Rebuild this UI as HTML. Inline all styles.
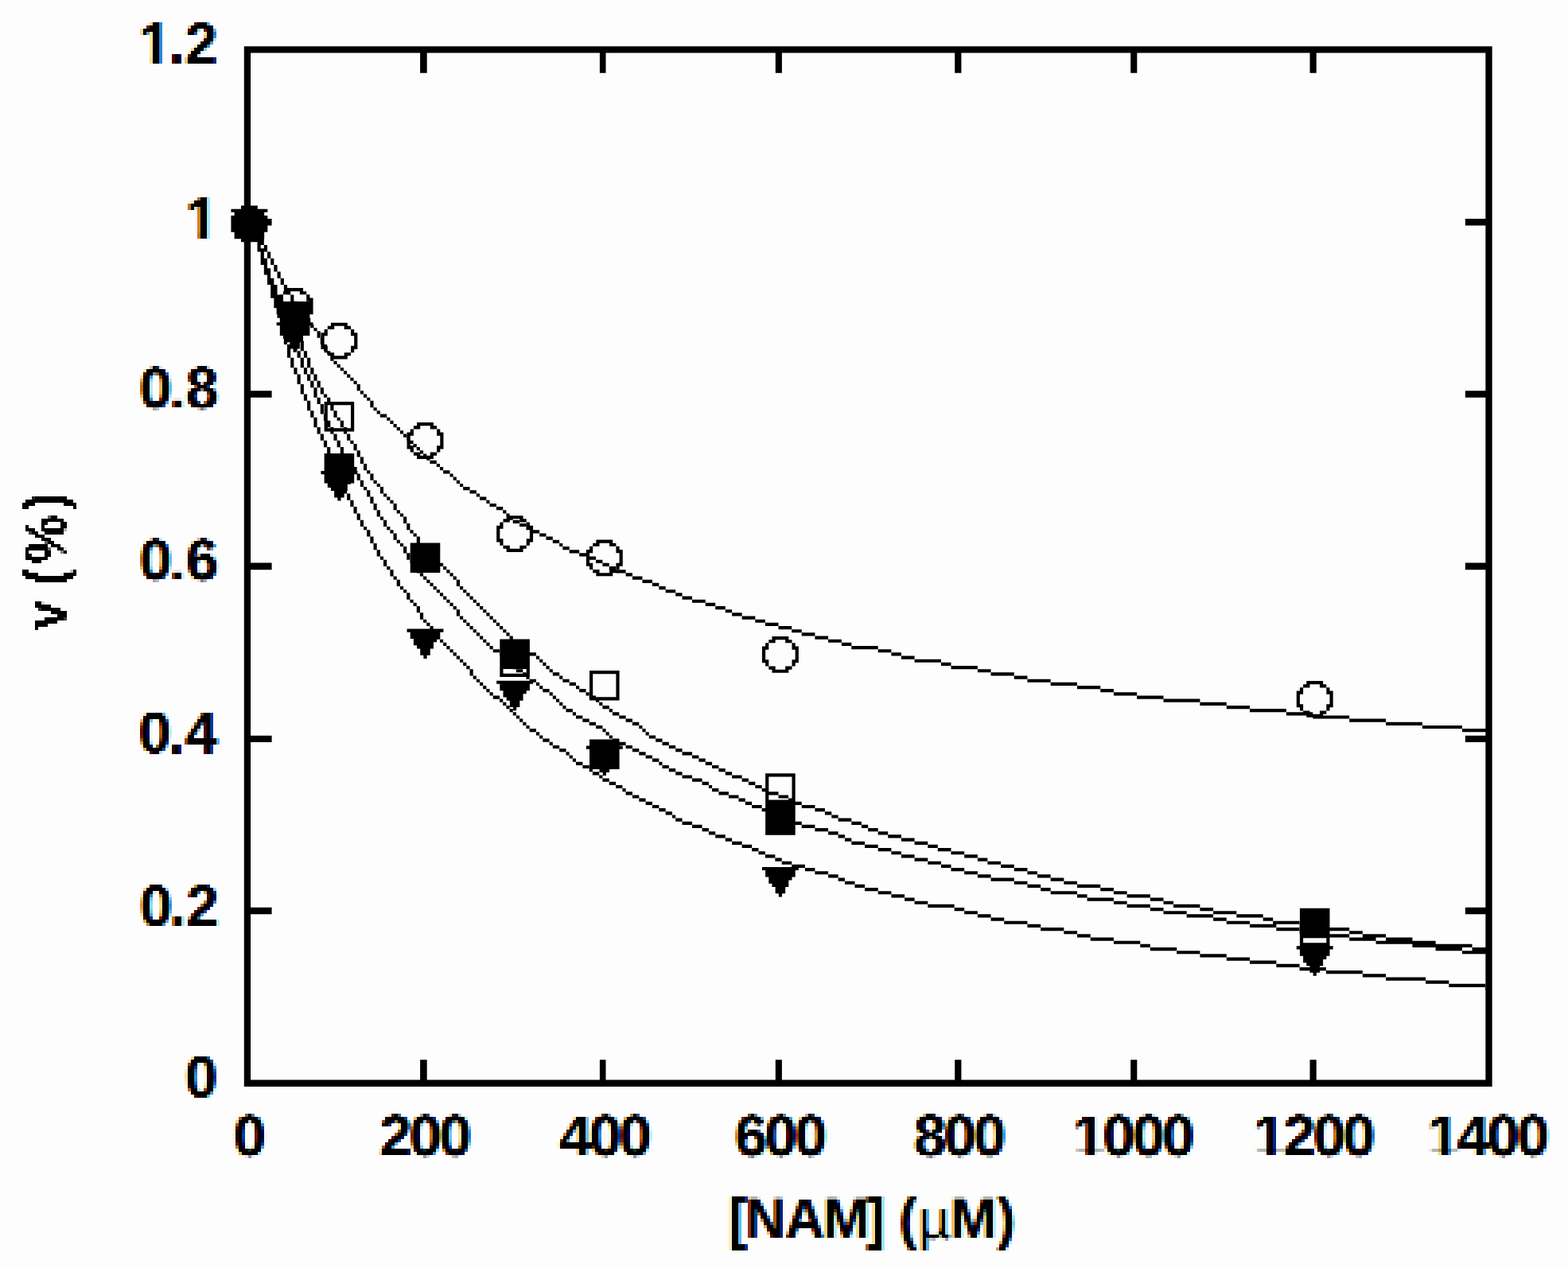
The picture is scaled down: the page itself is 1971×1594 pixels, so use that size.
<!DOCTYPE html>
<html lang="en">
<head>
<meta charset="utf-8">
<title>v (%) vs [NAM] (µM)</title>
<style>
html,body{margin:0;padding:0;background:#fdfdfd;}
body{width:1971px;height:1594px;overflow:hidden;}
svg{display:block;}
text{font-family:"Liberation Sans",Arial,Helvetica,sans-serif;font-weight:bold;fill:#000;}
</style>
</head>
<body>
<svg width="1971" height="1594" viewBox="0 0 1971 1594">
<rect width="1971" height="1594" fill="#fdfdfd"/>
<defs>
<filter id="ct" filterUnits="userSpaceOnUse" x="0" y="0" width="1971" height="1594" color-interpolation-filters="sRGB">
<feFlood x="1" y="1" width="1" height="1" flood-color="#000"/>
<feComposite width="4" height="4"/>
<feTile result="dots"/>
<feMorphology in="SourceAlpha" operator="erode" radius="0" result="thin"/>
<feGaussianBlur in="thin" stdDeviation="1.3 0.6" result="cov"/>
<feOffset in="cov" dx="1.39" dy="0" result="covR"/>
<feOffset in="cov" dx="-1.39" dy="0" result="covB"/>
<feComposite in="covR" in2="dots" operator="in"/>
<feColorMatrix type="matrix" values="0 0 0 1 0  0 0 0 1 0  0 0 0 1 0  0 0 0 0 1"/>
<feMorphology operator="dilate" radius="1" result="r1"/>
<feOffset in="r1" dx="1" dy="0" result="r2"/>
<feBlend in="r1" in2="r2" mode="lighten" result="r3"/>
<feOffset in="r3" dx="0" dy="1" result="r4"/>
<feBlend in="r3" in2="r4" mode="lighten" result="gR"/>
<feComposite in="cov" in2="dots" operator="in"/>
<feColorMatrix type="matrix" values="0 0 0 1 0  0 0 0 1 0  0 0 0 1 0  0 0 0 0 1"/>
<feMorphology operator="dilate" radius="1" result="g1"/>
<feOffset in="g1" dx="1" dy="0" result="g2"/>
<feBlend in="g1" in2="g2" mode="lighten" result="g3"/>
<feOffset in="g3" dx="0" dy="1" result="g4"/>
<feBlend in="g3" in2="g4" mode="lighten" result="gG"/>
<feComposite in="covB" in2="dots" operator="in"/>
<feColorMatrix type="matrix" values="0 0 0 1 0  0 0 0 1 0  0 0 0 1 0  0 0 0 0 1"/>
<feMorphology operator="dilate" radius="1" result="b1"/>
<feOffset in="b1" dx="1" dy="0" result="b2"/>
<feBlend in="b1" in2="b2" mode="lighten" result="b3"/>
<feOffset in="b3" dx="0" dy="1" result="b4"/>
<feBlend in="b3" in2="b4" mode="lighten" result="gB"/>
<feColorMatrix in="gR" type="matrix" values="0 0 0 0 0  0 0 0 0 1  0 0 0 0 1  1.2 0 0 0 0" result="cR"/>
<feColorMatrix in="gG" type="matrix" values="0 0 0 0 1  0 0 0 0 0  0 0 0 0 1  1.2 0 0 0 0" result="cG"/>
<feColorMatrix in="gB" type="matrix" values="0 0 0 0 1  0 0 0 0 1  0 0 0 0 0  1.2 0 0 0 0" result="cB"/>
<feBlend mode="multiply" in="cR" in2="cG" result="m1"/>
<feBlend mode="multiply" in="m1" in2="cB"/>
</filter>
<filter id="px" filterUnits="userSpaceOnUse" x="0" y="0" width="1971" height="1594" color-interpolation-filters="sRGB">
<feFlood x="1" y="1" width="1" height="1" flood-color="#000"/>
<feComposite width="4" height="4"/>
<feTile result="dots"/>
<feMorphology in="SourceAlpha" operator="erode" radius="0" result="thin"/>
<feGaussianBlur in="thin" stdDeviation="1" result="cov"/>
<feComposite in="cov" in2="dots" operator="in"/>
<feColorMatrix type="matrix" values="0 0 0 1 0  0 0 0 1 0  0 0 0 1 0  0 0 0 0 1"/>
<feMorphology operator="dilate" radius="1" result="p1"/>
<feOffset in="p1" dx="1" dy="0" result="p2"/>
<feBlend in="p1" in2="p2" mode="lighten" result="p3"/>
<feOffset in="p3" dx="0" dy="1" result="p4"/>
<feBlend in="p3" in2="p4" mode="lighten" result="p5"/>
<feColorMatrix in="p5" type="matrix" values="0 0 0 0 0  0 0 0 0 0  0 0 0 0 0  8 0 0 0 -3.6"/>
</filter>
</defs>
<g fill="#000" stroke="none">
<path fill-rule="evenodd" d="M306.8 58.2H1875.65V1365.9H306.8ZM315.1 66.5V1357.6H1867.35V66.5Z"/>
<path d="M528.1 65.5h8.6v26.3h-8.6zM528.1 1332.3h8.6v26.3h-8.6zM753.9 65.5h7.6v26.3h-7.6zM753.9 1332.3h7.6v26.3h-7.6zM974.8 65.5h8.1v26.3h-8.1zM974.8 1332.3h8.1v26.3h-8.1zM1200.2 65.5h8.2v26.3h-8.2zM1200.2 1332.3h8.2v26.3h-8.2zM1421.2 65.5h8.1v26.3h-8.1zM1421.2 1332.3h8.1v26.3h-8.1zM1646.5 65.5h8.2v26.3h-8.2zM1646.5 1332.3h8.2v26.3h-8.2zM314.1 275h27.5v8.5h-27.5zM1841.85 275h26.5v8.5h-26.5zM314.1 491.3h27.5v8.5h-27.5zM1841.85 491.3h26.5v8.5h-26.5zM314.1 707.5h27.5v8.8h-27.5zM1841.85 707.5h26.5v8.8h-26.5zM314.1 924.7h27.5v8.4h-27.5zM1841.85 924.7h26.5v8.4h-26.5zM314.1 1140.7h27.5v8.6h-27.5zM1841.85 1140.7h26.5v8.6h-26.5z"/>
<path fill-rule="evenodd" d="M290.44 270.98V291.82H294.62V300.15H302.96V304.32H323.48V316.42H327.65V333.07H331.82V345.57H336V358.06H340.17V374.72H344.34V387.21H347.64V395.32H348.51V399.71H351.82V405.19H347.64V409.37H351.82V421.9H355.99V426.03H356.86V433.02H361.03V449.68H365.2V462.18H369.37V470.51H373.55V483H377.72V495.49H381.89V503.82H386.06V516.32H390.23V524.65H394.41V537.14H398.58V545.47H402.75V553.8H406.92V562.13H411.1V570.05H407.62V592.09H403.44V596.27H407.62V607.55H411.79V612.93H415.96V617.1H420.13V625.43H424.3V629.59H428.5V625.43H432.67V620.43H436.13V628.76H440.3V637.09H444.47V645.42H448.64V653.75H452.82V662.08H456.99V666.24H461.16V674.57H465.33V682.9H469.51V691.23H473.68V699.56H477.85V703.72H482.02V712.05H486.19V716.22H490.37V724.55H494.54V728.71H498.71V737.04H502.88V741.2H507.06V745.37H511.23V753.7H515.4V757.86H519.57V762.03H523.74V770.36H527.92V778.69H532.09V782.85H536.26V787.01H540.43V790.49H511.54V794.67H515.72V803H519.89V811.33H524.06V815.5H528.23V823.83H532.4V827.99H536.6V823.83H540.77V815.5H544.94V807.17H549.11V803.67H552.95V807.84H557.12V812H561.29V816.17H565.47V820.33H569.64V824.5H573.81V828.66H577.98V832.83H582.16V836.99H586.33V841.15H590.5V849.48H594.67V853.65H598.84V857.81H603.02V861.98H607.19V866.14H611.36V870.31H615.53V874.47H619.71V878.64H628.05V882.8H632.22V886.97H636.39V891.13H640.57V895.29H644.74V899.46H648.91V903.62H653.08V907.79H657.25V911.95H661.43V916.12H665.6V920.28H673.94V924.45H678.12V928.61H682.29V932.78H690.63V936.94H694.8V941.11H703.15V945.27H711.49V949.43H715.67V953.6H719.84V957.76H724.01V961.93H732.35V966.09H740.7V970.26H744.87V974.42H753.22V978.59H757.39V982.75H765.73V986.92H774.08V991.08H782.42V995.25H786.59V999.41H794.94V1003.57H803.28V1007.74H811.63V1011.9H819.97V1016.07H828.32V1020.23H836.66V1024.4H845V1028.56H849.18V1032.73H857.52V1036.89H870.04V1041.06H882.55V1045.22H890.9V1049.38H899.24V1053.55H911.76V1057.71H920.1V1061.88H932.62V1066.04H945.14V1070.21H953.48V1074.37H961.83V1078.54H974.34V1082.7H982.69V1086.87H995.2V1089.89H957.94V1094.07H962.12V1102.4H966.29V1110.73H970.46V1114.9H974.63V1123.23H978.8V1127.39H983V1123.23H987.17V1114.9H991.34V1106.57H995.51V1102.4H999.68V1094.07H1003.86V1091.03H1011.89V1095.2H1024.41V1099.36H1041.1V1103.52H1053.61V1107.69H1061.96V1111.85H1074.47V1116.02H1086.99V1120.18H1103.68V1124.35H1120.37V1128.51H1137.06V1132.68H1149.57V1136.84H1166.26V1141.01H1199.64V1145.17H1212.16V1149.34H1228.85V1153.5H1245.54V1157.66H1262.22V1161.83H1291.43V1165.99H1308.12V1170.16H1337.32V1174.32H1354.01V1178.49H1370.7V1182.65H1399.91V1186.82H1433.28V1190.98H1445.8V1195.15H1479.18V1199.31H1508.38V1203.48H1541.76V1207.64H1570.97V1211.8H1604.34V1215.97H1633.55V1220.13H1646.43V1222.63H1650.6V1226.79H1654.8V1222.63H1658.97V1220.13H1666.93V1224.3H1712.82V1228.46H1742.03V1232.63H1792.09V1236.79H1821.3V1240.96H1867.19V1245.12H1871.38V1240.94H1867.21V1236.77H1821.32V1232.61H1792.11V1228.44H1742.05V1224.28H1712.84V1220.11H1666.95V1215.95H1658.97V1214.3H1663.14V1205.97H1667.31V1201.8H1671.48V1193.47H1675.66V1189.29H1671.48V1178.49H1696.13V1182.65H1729.51V1186.82H1775.4V1190.98H1804.61V1195.15H1837.99V1199.31H1871.38V1190.96H1850.52V1186.8H1804.63V1182.63H1775.42V1178.47H1742.05V1174.3H1712.84V1170.14H1696.15V1165.97H1671.48V1141.65H1633.92V1161.81H1633.57V1157.64H1600.19V1153.48H1587.68V1149.32H1554.3V1145.15H1525.09V1140.99H1508.4V1136.82H1475.03V1132.66H1462.51V1128.49H1445.82V1124.33H1416.62V1120.16H1399.93V1116H1383.24V1111.83H1354.03V1107.67H1337.34V1103.5H1320.65V1099.34H1303.97V1095.18H1291.45V1091.01H1274.76V1086.85H1258.07V1082.68H1241.38V1078.52H1228.87V1074.35H1212.18V1070.19H1195.49V1066.02H1178.8V1061.86H1166.28V1057.69H1149.59V1053.53H1132.91V1049.36H1116.22V1045.2H1103.7V1041.04H1091.18V1036.87H1082.84V1032.71H1070.32V1028.54H1053.63V1024.38H1045.29V1020.21H1036.94V1016.05H1024.43V1011.88H1007.74V1007.72H999.68V972.25H962.12V991.06H957.67V986.9H949.33V982.73H940.98V978.57H932.64V974.4H920.12V970.24H911.78V966.07H903.43V961.91H895.09V957.74H886.75V953.58H878.4V949.41H870.06V945.25H857.54V941.09H849.2V936.92H840.85V932.76H832.51V928.59H824.16V924.43H815.82V920.26H811.65V916.1H807.47V911.93H803.3V907.77H794.96V903.6H786.61V899.44H778.27V895.27H769.92V891.11H765.75V886.95H757.41V882.78H753.24V880.55H778.58V843.05H741.02V874.45H740.72V870.29H736.55V866.12H728.2V861.96H724.03V857.79H715.69V853.63H707.34V849.46H703.17V845.3H694.82V841.13H690.65V836.97H686.48V832.81H682.31V828.64H678.14V824.48H673.96V820.31H665.88V803.55H644.76V799.49H640.59V795.32H636.41V791.16H632.24V787H628.07V782.83H623.9V778.67H619.72V774.5H615.55V770.34H611.38V766.17H607.21V762.01H603.04V757.84H598.86V753.68H594.69V749.51H590.52V745.35H586.35V741.18H582.18V737.02H578V728.69H573.83V724.53H569.66V720.36H565.49V716.2H561.31V712.03H557.14V707.87H553.28V682.45H527.94V674.55H523.76V670.39H519.59V666.22H515.42V657.89H511.25V649.56H507.08V645.4H502.9V641.23H498.73V632.9H494.56V628.74H490.39V624.58H486.21V620.41H482.04V612.08H477.87V607.92H473.7V603.75H469.53V595.42H465.35V591.26H461.18V582.93H457.01V574.6H452.84V566.27H448.66V557.94H444.49V553.78H440.32V545.45H436.15V542.45H445.18V504.95H415.29V499.64H411.12V495.47H406.94V487.14H402.77V478.81H398.6V470.49H394.43V462.16H390.25V449.66H386.08V441.33H381.91V428.84H381.04V421.9H389.38V409.37H390.23V412.2H394.41V416.37H398.58V424.69H402.75V433.02H403.44V439.02H406.92V441.35H407.62V443.19H411.1V445.52H411.79V447.35H415.27V453.85H419.44V458.01H423.61V462.18H427.78V466.34H431.96V470.51H436.13V474.67H440.3V478.83H444.47V483H448.64V491.33H452.82V495.49H456.99V499.66H461.16V503.82H465.33V512.15H469.51V516.32H473.68V520.48H477.85V524.65H486.19V528.81H490.37V532.97H494.54V537.14H498.71V541.3H502.88V545.47H507.06V549.63H511.23V553.8H511.54V564.42H515.72V568.59H519.89V572.75H524.06V576.92H536.26V578.78H540.43V582.95H548.78V587.11H552.95V591.28H557.12V595.44H565.47V599.61H569.64V603.77H573.81V607.94H577.98V612.1H582.16V616.27H590.5V620.43H598.84V624.6H603.02V628.76H611.36V632.92H615.53V637.09H623.88V641.25H632.22V645.42H636.39V649.58H636.66V652.35H632.49V656.51H628.32V660.68H624.14V681.52H628.32V685.69H632.49V689.85H636.66V694.02H657.54V689.85H661.71V685.69H665.88V681.52H670.06V670.41H678.12V674.57H686.46V678.74H694.8V682.9H703.15V687.06H707.32V691.23H715.67V695.39H728.18V699.56H736.84V711.82H741.02V715.99H745.19V720.15H749.36V724.32H770.24V720.15H774.08V720.38H786.59V724.55H794.94V728.71H807.45V732.88H819.97V737.04H828.32V741.2H836.66V745.37H849.18V749.53H857.52V753.7H870.04V757.86H886.73V762.03H899.24V766.19H911.76V770.36H920.1V774.52H932.62V778.69H949.31V782.85H961.83V787.01H978.51V791.18H995.2V795.34H1007.72V799.51H1024.41V803.67H1041.1V807.84H1057.79V812H1070.3V816.17H1103.68V820.33H1120.37V824.5H1132.89V828.66H1149.57V832.83H1182.95V836.99H1195.47V841.15H1228.85V845.32H1245.54V849.48H1274.74V853.65H1291.43V857.81H1320.63V861.98H1354.01V866.14H1383.22V870.31H1399.91V874.47H1429.11V878.64H1462.49V882.8H1508.38V886.97H1541.76V891.13H1570.97V895.29H1616.86V899.46H1642.26V901.87H1650.24V903.62H1696.13V907.79H1742.03V911.95H1787.92V916.12H1837.99V920.28H1871.38V916.1H1838.01V911.93H1787.94V907.77H1742.05V903.6H1696.15V899.44H1663.14V897.7H1667.31V893.54H1671.48V889.37H1675.66V868.53H1671.48V864.36H1667.31V860.2H1663.14V856.03H1642.26V860.2H1638.09V864.36H1633.92V868.53H1629.74V889.37H1633.92V893.54H1638.09V895.27H1616.88V891.11H1570.99V886.95H1541.78V882.78H1508.4V878.62H1462.51V874.45H1429.13V870.29H1399.93V866.12H1383.24V861.96H1354.03V857.79H1320.65V853.63H1291.45V849.46H1274.76V845.3H1245.56V841.13H1228.87V836.97H1195.49V832.81H1182.97V828.64H1149.59V824.48H1132.91V820.31H1120.39V816.15H1103.7V811.98H1070.32V807.82H1057.81V803.65H1041.12V799.49H1024.43V795.32H1007.74V791.16H995.22V787H978.53V782.83H961.85V778.67H949.33V774.5H932.64V770.34H920.12V766.17H911.78V762.01H899.26V757.84H886.75V753.68H870.06V749.51H857.54V745.35H849.2V741.18H836.68V737.02H828.34V732.86H819.99V728.69H807.47V724.53H794.96V720.36H786.61V716.2H774.41V715.99H778.58V711.82H782.76V690.98H778.58V686.81H774.41V682.65H770.24V678.48H749.36V682.65H745.19V686.81H741.02V690.98H736.84V695.37H728.2V691.21H715.69V687.04H707.34V682.88H703.17V678.72H694.82V674.55H686.48V670.39H678.14V666.22H670.06V660.68H665.88V656.51H661.71V652.35H657.54V648.18H640.59V645.4H636.41V641.23H632.24V637.07H623.9V632.9H615.55V628.74H611.38V624.58H603.04V620.41H598.86V616.25H590.52V612.08H582.18V607.92H578V603.75H573.83V599.59H569.66V595.42H565.49V591.26H557.14V587.09H552.97V582.93H548.8V578.77H540.45V576.92H544.94V572.75H549.11V568.59H553.28V564.42H557.46V543.58H553.28V539.41H549.11V535.25H544.94V531.08H524.06V535.25H519.89V539.41H515.72V543.58H511.54V549.61H511.25V545.45H507.08V541.28H502.9V537.12H498.73V532.95H494.56V528.79H490.39V524.63H486.21V520.46H477.87V516.3H473.7V512.13H469.53V503.8H465.35V499.64H461.18V495.47H457.01V491.31H452.84V482.98H448.66V478.81H444.49V474.65H440.32V470.49H436.15V466.32H431.98V462.16H427.8V457.99H423.63V453.83H419.46V451.52H436.84V447.35H441.01V443.19H445.18V439.02H449.36V418.18H445.18V414.01H441.01V409.85H436.84V405.68H415.96V409.85H411.79V414.01H407.62V418.18H403.44V424.67H402.77V416.35H398.6V412.18H394.43V408.02H393.56V405.19H390.25V399.69H389.38V395.32H393.56V374.48H389.38V370.31H385.21V366.15H381.04V361.98H361.05V358.04H356.88V349.71H352.7V341.38H348.53V333.05H344.36V324.72H340.19V316.4H336.02V308.07H331.84V300.15H332.18V291.82H336.36V270.98H332.18V266.87H336.36V262.69H332.18V262.65H323.84V258.48H302.96V262.65H294.62V262.69H290.44V266.87H294.62V270.98ZM819.99 1011.88V1007.72H811.65V1003.55H803.3V999.39H794.96V995.23H786.61V991.06H782.44V986.9H774.1V982.73H765.75V978.57H757.41V974.4H753.24V970.24H744.89V966.95H753.53V970.93H757.7V975.09H761.9V970.93H766.07V966.95H778.58V941.77H782.76V937.59H778.58V936.94H786.59V941.11H794.94V945.27H803.28V949.43H811.63V953.6H819.97V957.76H828.32V961.93H832.49V966.09H840.83V970.26H849.18V974.42H857.52V978.59H870.04V982.75H882.55V986.92H890.9V991.08H895.07V995.25H903.41V999.41H915.93V1003.57H928.45V1007.74H936.79V1011.9H945.14V1016.07H957.65V1020.23H962.12V1049.75H999.68V1036.89H1007.72V1041.06H1024.41V1045.22H1041.1V1049.38H1053.61V1053.55H1061.96V1057.71H1070.3V1061.88H1086.99V1066.04H1103.68V1070.21H1120.37V1074.37H1132.89V1078.54H1149.57V1082.7H1166.26V1086.87H1182.95V1091.03H1195.47V1095.2H1212.16V1099.36H1228.85V1103.52H1245.54V1107.69H1274.74V1111.85H1291.43V1116.02H1308.12V1120.18H1320.63V1124.35H1354.01V1128.51H1366.53V1132.68H1399.91V1136.84H1416.6V1141.01H1445.8V1145.17H1462.49V1149.34H1491.69V1153.5H1525.07V1157.66H1541.76V1161.83H1570.97V1165.99H1604.34V1170.16H1633.55V1174.32H1633.92V1189.29H1629.74V1193.47H1633.92V1201.8H1638.09V1210.13H1642.26V1214.3H1646.43V1215.95H1633.57V1211.78H1604.36V1207.62H1570.99V1203.46H1541.78V1199.29H1508.4V1195.13H1479.2V1190.96H1445.82V1186.8H1433.3V1182.63H1399.93V1178.47H1370.72V1174.3H1354.03V1170.14H1337.34V1165.97H1308.14V1161.81H1291.45V1157.64H1262.24V1153.48H1245.56V1149.32H1228.87V1145.15H1212.18V1140.99H1199.66V1136.82H1166.28V1132.66H1149.59V1128.49H1137.08V1124.33H1120.39V1120.16H1103.7V1116H1087.01V1111.83H1074.49V1107.67H1061.98V1103.5H1053.63V1099.34H1041.12V1095.18H1024.43V1091.01H1011.91V1086.85H995.22V1082.68H982.71V1078.52H974.36V1074.35H961.85V1070.19H953.5V1066.02H945.16V1061.86H932.64V1057.69H920.12V1053.53H911.78V1049.36H899.26V1045.2H890.92V1041.04H882.57V1036.87H870.06V1032.71H857.54V1028.54H849.2V1024.38H845.02V1020.21H836.68V1016.05H828.34V1011.88ZM857.54 974.4V970.24H849.2V966.07H840.85V961.91H832.51V957.74H828.34V953.58H819.99V949.41H811.65V945.25H803.3V941.09H794.96V936.92H786.61V932.76H778.58V929.45H778.27V928.59H769.92V924.43H765.75V920.26H761.58V916.1H757.41V911.93H749.06V907.77H740.72V903.6H732.37V899.44H724.03V895.27H719.86V891.11H711.51V886.95H707.34V882.78H703.17V878.62H699V874.45H694.82V870.29H690.65V866.12H682.31V861.96H678.14V857.79H673.96V853.63H665.62V851.05H665.88V824.5H673.94V828.66H678.12V832.83H682.29V836.99H686.46V841.15H690.63V845.32H694.8V849.48H703.15V853.65H707.32V857.81H715.67V861.98H724.01V866.14H728.18V870.31H736.53V874.47H740.7V878.64H741.02V880.55H749.04V882.8H753.22V886.97H757.39V891.13H765.73V895.29H769.9V899.46H778.25V903.62H786.59V907.79H794.94V911.95H803.28V916.12H807.45V920.28H811.63V924.45H815.8V928.61H824.14V932.78H832.49V936.94H840.83V941.11H849.18V945.27H857.52V949.43H870.04V953.6H878.38V957.76H886.73V961.93H895.07V966.09H903.41V970.26H911.76V974.42H920.1V978.59H932.62V982.75H940.96V986.92H949.31V991.08H957.65V995.25H962.12V1016.05H957.67V1011.88H945.16V1007.72H936.81V1003.55H928.47V999.39H915.95V995.23H903.43V991.06H895.09V986.9H890.92V982.73H882.57V978.57H870.06V974.4ZM473.7 682.88H469.53V674.55H465.35V666.22H461.18V662.06H457.01V653.73H452.84V645.4H448.66V637.07H444.49V628.74H440.32V620.41H436.15V617.1H436.84V608.77H441.01V607.55H445.18V596.27H448.64V603.77H452.82V612.1H456.99V616.27H461.16V624.6H465.33V632.92H469.51V641.25H473.68V649.58H477.85V653.75H482.02V662.08H486.19V666.24H490.37V670.41H494.54V678.74H498.71V682.9H502.88V687.06H507.06V695.39H511.23V703.72H515.4V707.89H515.72V719.95H523.74V720.38H527.92V724.55H532.09V728.71H536.26V732.88H540.43V737.04H544.61V741.2H548.78V745.37H552.95V749.53H557.12V753.7H561.29V757.86H565.47V762.03H569.64V766.19H573.81V774.52H577.98V778.69H582.16V782.85H586.33V787.01H590.5V791.18H594.67V795.34H598.84V799.51H603.02V803.67H607.19V807.84H611.36V812H615.53V816.17H619.71V820.33H628.05V824.5H628.32V851.05H661.43V853.65H665.6V855.69H624.14V859.87H628.32V868.2H632.49V876.53H636.66V880.7H640.83V889.03H645V893.19H649.2V889.03H653.37V880.7H657.54V872.37H661.71V868.2H665.88V859.87H670.06V857.81H673.94V861.98H678.12V866.14H682.29V870.31H690.63V874.47H694.8V878.64H698.98V882.8H703.15V886.97H707.32V891.13H711.49V895.29H719.84V899.46H724.01V903.62H732.35V907.79H740.7V911.95H749.04V916.12H757.39V920.28H761.56V924.45H765.73V928.61H769.9V929.45H741.02V937.59H736.84V941.77H741.02V966.07H740.72V961.91H732.37V957.74H724.03V953.58H719.86V949.41H715.69V945.25H711.51V941.09H703.17V936.92H694.82V932.76H690.65V928.59H682.31V924.43H678.14V920.26H673.96V916.1H665.62V911.93H661.45V907.77H657.27V903.6H653.1V899.44H648.93V895.27H644.76V891.11H640.59V886.95H636.41V882.78H632.24V878.62H628.07V874.45H619.72V870.29H615.55V866.12H611.38V861.96H607.21V857.79H603.04V853.63H598.86V849.46H594.69V841.13H590.52V836.97H586.35V832.81H582.18V828.64H578V824.48H573.83V820.31H569.66V816.15H565.49V811.98H561.31V807.82H557.14V803.65H552.97V803H553.28V794.67H557.46V790.49H544.63V787H540.45V782.83H536.28V778.67H532.11V770.34H527.94V762.01H523.76V757.84H519.59V753.68H515.42V745.35H511.25V741.18H507.08V737.02H502.9V728.69H498.73V724.53H494.56V716.2H490.39V712.03H486.21V703.7H482.04V699.54H477.87V691.21H473.7ZM502.9 682.88V678.72H498.73V670.39H494.56V666.22H490.39V662.06H486.21V653.73H482.04V649.56H477.87V641.23H473.7V632.9H469.53V624.58H465.35V616.25H461.18V612.08H457.01V603.75H452.84V595.42H449.36V592.09H448.66V587.09H445.18V570.05H431.98V562.11H427.8V553.78H423.63V545.45H419.46V542.45H431.96V545.47H436.13V553.8H440.3V557.96H444.47V566.29H448.64V574.62H452.82V582.95H456.99V591.28H461.16V595.44H465.33V603.77H469.51V607.94H473.68V612.1H477.85V620.43H482.02V624.6H486.19V628.76H490.37V632.92H494.54V641.25H498.71V645.42H502.88V649.58H507.06V657.91H511.23V666.24H515.4V670.41H519.57V674.57H523.74V682.45H515.72V703.7H515.42V695.37H511.25V687.04H507.08V682.88ZM532.09 570.46V572.73H528.25V570.46ZM532.11 570.44V566.27H527.94V562.11H523.76V557.94H519.59V553.78H515.74V547.76H519.91V539.43H528.25V535.27H540.75V539.43H549.09V547.76H553.26V560.24H549.09V568.57H540.75V572.73H536.28V570.44ZM369.39 462.16V449.66H365.22V438.53H368.5V442.69H372.7V441.35H373.55V449.68H377.72V462.18H381.89V470.51H386.06V478.83H390.23V487.16H394.41V499.66H398.58V507.99H402.75V520.48H406.92V528.81H407.62V542.45H415.27V545.47H419.44V553.8H423.61V562.13H427.78V570.05H415.29V562.11H411.12V553.78H406.94V545.45H402.77V537.12H398.6V524.63H394.43V516.3H390.25V503.8H386.08V495.47H381.91V482.98H377.74V470.49H373.57V462.16ZM386.08 462.18H390.23V470.49H386.08ZM351.84 379.05V378.88H352.68V379.05ZM356.01 370.33H361.03V370.56H365.2V378.88H369.37V379.05H356.88V378.86H352.7V378.66H356.01ZM348.53 358.04H344.36V349.71H340.19V337.22H336.02V324.74H340.17V333.07H344.34V341.4H348.51V349.73H352.68V358.06H356.86V366.15H355.99V370.31H351.82V370.54H348.53ZM331.82 308.09V312.23H327.67V308.09ZM336 324.72H331.84V316.42H336ZM385.19 378.66H389.36V379.05H373.57V378.86H369.39V370.54H365.22V366.37H364.35V366.17H376.85V370.33H385.19ZM377.72 441.33H373.57V438.53H376.87V430.2H377.72ZM377.74 441.35H381.89V449.66H377.74ZM361.05 433V430.2H364.33V433ZM386.06 462.16H381.91V449.68H386.06ZM398.6 487.16H402.75V495.49H406.92V499.66H411.1V504.95H407.62V520.46H406.94V507.97H402.77V499.64H398.6ZM398.58 487.14H394.43V478.83H398.58ZM394.41 478.81H390.25V470.51H394.41ZM415.27 537.14V538.27H411.81V537.14ZM411.81 509.13H415.27V516.32H419.44V524.65H423.61V528.81H427.78V537.14H431.96V538.27H419.46V537.12H415.29V528.79H411.81ZM423.63 524.63V516.3H419.46V509.13H440.99V538.27H436.15V537.12H431.98V528.79H427.8V524.63ZM440.99 443.17H432.65V447.33H420.15V443.17H415.29V441.33H411.81V434.84H411.12V433H407.64V422.36H411.81V414.03H420.15V409.87H432.65V414.03H440.99V422.36H445.16V434.84H440.99ZM523.74 566.29H527.92V568.57H519.91V562.13H523.74ZM515.74 557.96H519.57V560.24H515.74ZM590.52 787V782.83H586.35V778.67H582.18V774.5H578V766.17H573.83V762.01H569.66V757.84H565.49V753.68H561.31V749.51H557.14V745.35H552.97V741.18H548.8V737.02H544.63V732.86H540.45V728.69H536.28V724.53H532.11V720.36H527.94V719.95H553.28V712.05H557.12V716.22H561.29V720.38H565.47V724.55H569.64V728.71H573.81V737.04H577.98V741.2H582.16V745.37H586.33V749.53H590.5V753.7H594.67V757.86H598.84V762.03H603.02V766.19H607.19V770.36H611.36V774.52H615.53V778.69H619.71V782.85H623.88V787.01H628.05V791.18H632.22V795.34H636.39V799.51H640.57V803.55H628.32V820.31H628.07V816.15H619.72V811.98H615.55V807.82H611.38V803.65H607.21V799.49H603.04V795.32H598.86V791.16H594.69V787ZM644.74 841.15H648.91V845.32H657.25V846.87H632.51V841.05H644.74ZM657.27 845.3V841.13H648.93V841.05H661.69V846.87H661.45V845.3ZM774.39 876.37H749.06V874.45H745.21V847.23H774.39ZM628.34 677.34V664.86H632.51V656.53H640.85V653.75H644.74V657.91H653.08V662.08H661.43V666.24H665.86V677.34H661.69V685.67H653.35V689.83H640.85V685.67H632.51V677.34ZM661.69 662.06H661.45V657.89H653.1V653.73H644.76V652.37H653.35V656.53H661.69ZM745.21 686.83H753.55V682.67H766.05V686.83H774.39V695.16H778.56V707.64H774.39V715.97H774.1V712.03H765.75V707.87H757.41V703.7H749.06V699.54H741.04V695.16H745.21ZM741.04 703.72H749.04V707.89H757.39V712.05H765.73V716.22H766.05V720.13H753.55V715.97H745.21V707.64H741.04ZM1320.65 1120.16V1116H1308.14V1111.83H1291.45V1107.67H1274.76V1103.5H1245.56V1099.34H1228.87V1095.18H1212.18V1091.01H1195.49V1086.85H1182.97V1082.68H1166.28V1078.52H1149.59V1074.35H1132.91V1070.19H1120.39V1066.02H1103.7V1061.86H1087.01V1057.69H1070.32V1053.53H1061.98V1049.36H1053.63V1045.2H1041.12V1041.04H1024.43V1036.87H1007.74V1032.71H999.68V1011.9H1007.72V1016.07H1024.41V1020.23H1036.92V1024.4H1045.27V1028.56H1053.61V1032.73H1070.3V1036.89H1082.82V1041.06H1091.16V1045.22H1103.68V1049.38H1116.2V1053.55H1132.89V1057.71H1149.57V1061.88H1166.26V1066.04H1178.78V1070.21H1195.47V1074.37H1212.16V1078.54H1228.85V1082.7H1241.36V1086.87H1258.05V1091.03H1274.74V1095.2H1291.43V1099.36H1303.95V1103.52H1320.63V1107.69H1337.32V1111.85H1354.01V1116.02H1383.22V1120.18H1399.91V1124.35H1416.6V1128.51H1445.8V1132.68H1462.49V1136.84H1475.01V1141.01H1508.38V1145.17H1525.07V1149.32H1491.71V1145.15H1462.51V1140.99H1445.82V1136.82H1416.62V1132.66H1399.93V1128.49H1366.55V1124.33H1354.03V1120.16ZM978.51 999.41V1003.57H991.03V1005.57H966.31V999.41ZM978.53 999.39V995.23H966.31V976.43H995.49V1003.55H991.05V999.39ZM1633.92 1170.14H1633.57V1165.99H1633.92ZM1604.36 1165.97V1161.83H1633.55V1165.97ZM1541.78 1157.64V1153.48H1525.09V1149.34H1554.28V1153.5H1587.66V1157.66H1600.17V1161.81H1570.99V1157.64ZM1671.48 1170.16H1696.13V1174.3H1671.48ZM1712.82 1174.32V1178.47H1696.15V1174.32ZM1638.11 1185.17V1179.15H1667.29V1185.17ZM1729.53 1182.63V1178.49H1742.03V1182.63ZM1850.5 1190.98V1195.13H1838.01V1190.98ZM1646.45 893.52H1638.11V885.19H1633.94V872.71H1638.11V864.38H1646.45V860.22H1658.95V864.38H1667.29V872.71H1671.46V885.19H1667.29V893.52H1658.95V897.68H1650.26V895.27H1646.45ZM957.94 833.32H962.12V837.49H966.29V841.65H970.46V845.82H991.34V841.65H995.51V837.49H999.68V833.32H1003.86V812.48H999.68V808.31H995.51V804.15H991.34V799.98H970.46V804.15H966.29V808.31H962.12V812.48H957.94ZM966.31 829.14H962.14V816.66H966.31V808.33H974.65V804.17H987.15V808.33H995.49V816.66H999.66V829.14H995.49V837.47H987.15V841.63H974.65V837.47H966.31Z"/>
</g>
<mask id="nofoot" maskUnits="userSpaceOnUse" x="0" y="0" width="1971" height="1594">
<rect width="1971" height="1594" fill="#fff"/>
<path fill="#000" d="M1346.7 1445.4h18.2v12h-18.2zM1375.2 1445.4h13.2v12h-13.2zM1573.7 1445.4h18.2v12h-18.2zM1602.2 1445.4h13.2v12h-13.2zM1792.6 1445.4h18.2v12h-18.2zM1821.1 1445.4h13.2v12h-13.2zM172.7 72h18.2v12h-18.2zM201.2 72h13.2v12h-13.2zM231.4 292.5h18.2v12h-18.2zM259.9 292.5h13.2v12h-13.2z"/>
</mask>
<g filter="url(#ct)"><g mask="url(#nofoot)">
<text x="292.7" y="1453.3" font-size="74">0</text>
<text x="476.2 513.7 551.2" y="1453.3" font-size="74">200</text>
<text x="702.6 740.1 777.6" y="1453.3" font-size="74">400</text>
<text x="923 960.5 998" y="1453.3" font-size="74">600</text>
<text x="1148.1 1185.6 1223.1" y="1453.3" font-size="74">800</text>
<text x="1347.7 1385.2 1422.7 1460.2" y="1453.3" font-size="74">1000</text>
<text x="1574.7 1612.2 1649.7 1687.2" y="1453.3" font-size="74">1200</text>
<text x="1793.6 1831.1 1868.6 1906.1" y="1453.3" font-size="74">1400</text>
<text x="173.7 211.2 232.03" y="79.9" font-size="74">1.2</text>
<text x="232.4" y="300.4" font-size="74">1</text>
<text x="174.6 212.1 232.93" y="513.3" font-size="74">0.8</text>
<text x="174.6 212.1 232.93" y="728.8" font-size="74">0.6</text>
<text x="173.6 211.1 231.93" y="946.2" font-size="74">0.4</text>
<text x="175.1 212.6 233.43" y="1163.6" font-size="74">0.2</text>
<text x="232" y="1378.9" font-size="74">0</text>
<text transform="translate(915.55 1556.7) scale(0.95 1)" x="0 21.84 73.89 124.74 182.11 212.11 224.84 250.68 292.95 354.58" y="0" font-size="74">[NAM] (<tspan font-weight="normal">µ</tspan>M)</text>
</g></g>
<g filter="url(#px)">
<text transform="translate(81.6 791.6) rotate(-90) scale(0.92 1)" x="0 30 60.43 91.09 163.42" y="0" font-size="74">v (%)</text>
</g>
</svg>
</body>
</html>
